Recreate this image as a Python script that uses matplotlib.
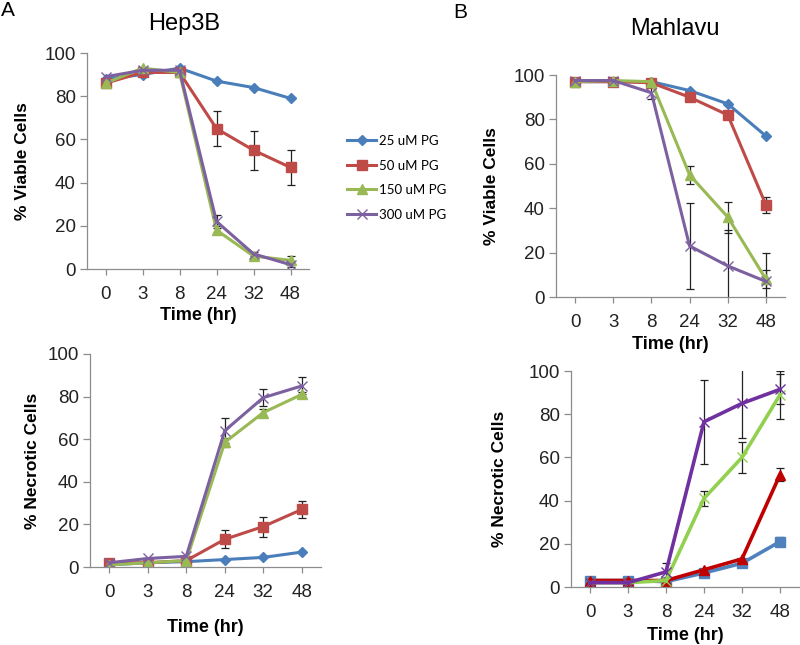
import numpy as np
import matplotlib
matplotlib.use('Agg')
import matplotlib.pyplot as plt

plt.rcParams['font.family'] = ['Liberation Sans', 'DejaVu Sans']

W, H = 800, 645

time_labels = ['0', '3', '8', '24', '32', '48']
doses = ['25 uM PG', '50 uM PG', '150 uM PG', '300 uM PG']

# Hep3B, viable
hep_via_25 = [88, 90, 93, 87, 84, 79]
hep_via_50 = [86, 91, 91, 65, 55, 47]
hep_via_150 = [86, 93, 91, 18, 6, 4]
hep_via_300 = [89, 92, 92, 22, 7, 2]
hep_via_err_25 = [0, 0, 0, 0, 0, 0]
hep_via_err_50 = [0, 0, 0, 8, 9, 8]
hep_via_err_150 = [0, 0, 0, 2, 1, 2]
hep_via_err_300 = [0, 0, 0, 3, 1, 1]

# Mahlavu, viable
mah_via_25 = [97, 97, 97, 93, 87, 72.5]
mah_via_50 = [97, 97, 96.5, 90, 82, 41.5]
mah_via_150 = [97, 97.5, 97, 55, 36, 8]
mah_via_300 = [97.5, 97.5, 92, 23, 14, 7]
mah_via_err_25 = [0, 0, 0, 0, 0, 0]
mah_via_err_50 = [0, 0, 0, 1, 2, 3.5]
mah_via_err_150 = [0, 0, 0, 4, 7, 4]
mah_via_err_300 = [0, 0, 3, 19.5, 16, 13]

# Hep3B, necrotic
hep_nec_25 = [1, 2, 2.5, 3.5, 4.5, 7]
hep_nec_50 = [2, 2, 3, 13, 19, 27]
hep_nec_150 = [1, 2, 3, 58.5, 72.5, 81]
hep_nec_300 = [2, 4, 5, 64, 79.5, 85]
hep_nec_err_25 = [0, 0, 0, 0, 0, 0]
hep_nec_err_50 = [0, 0, 0, 4.3, 4.7, 3.8]
hep_nec_err_150 = [0, 0, 0, 2, 1.5, 1]
hep_nec_err_300 = [0, 0, 0, 6, 4, 4]

# Mahlavu, necrotic
mah_nec_25 = [3, 3, 2.5, 6.5, 11, 21]
mah_nec_50 = [3, 3, 3, 8, 13, 52]
mah_nec_150 = [2, 2, 3, 41, 60, 89]
mah_nec_300 = [2, 2, 7, 76.5, 85, 91.5]
mah_nec_err_25 = [0, 0, 0, 0.5, 1, 2]
mah_nec_err_50 = [0, 0, 0, 0, 0, 3]
mah_nec_err_150 = [0, 0, 0, 3.5, 7, 11]
mah_nec_err_300 = [0, 0, 4, 19.5, 16, 7]

excel_style = [('#4A7EBB', 'D', 5.5, 1), ('#BE4B48', 's', 7, 1),
               ('#98B954', '^', 7.5, 1), ('#7D60A0', 'x', 7, 1)]
dark_style = [('#4F81BD', 's', 6.5, 1), ('#C00000', '^', 7.5, 1),
              ('#92D050', 'x', 7, 1), ('#7030A0', 'x', 7, 1)]

fig = plt.figure(figsize=(W / 100, H / 100), dpi=100)


def px_axes(l, t, r, b):
	return fig.add_axes([l / W, 1 - b / H, (r - l) / W, (b - t) / H])


def panel(box, series, errs, styles, ylabel, ylab_x, xlab_y, lw=2.2):
	l, t, r, b = box
	ax = px_axes(l, t, r, b)
	x = np.arange(len(time_labels))
	handles = []
	for vals, err, (col, mk, ms, mew), lab in zip(series, errs, styles, doses):
		err = np.array(err, dtype=float)
		sel = err > 0
		if sel.any():
			ax.errorbar(x[sel], np.array(vals)[sel], yerr=err[sel], fmt='none',
						ecolor='#222222', elinewidth=0.9, capsize=3, capthick=0.9, zorder=1)
		h, = ax.plot(x, vals, color=col, lw=lw, marker=mk, markersize=ms,
					 markeredgewidth=mew, markeredgecolor=col, label=lab, zorder=2)
		handles.append(h)
	ax.set_xlim(-0.5, len(time_labels) - 0.5)
	ax.set_ylim(0, 100)
	ax.set_xticks(x)
	ax.set_xticklabels(time_labels)
	ax.set_yticks([0, 20, 40, 60, 80, 100])
	for s in ['top', 'right']:
		ax.spines[s].set_visible(False)
	for s in ['left', 'bottom']:
		ax.spines[s].set_color('#8c8c8c')
		ax.spines[s].set_linewidth(0.9)
	ax.tick_params(axis='y', direction='out', length=5, width=0.9, color='#8c8c8c',
				   labelsize=13.5, labelcolor='#222222', pad=3)
	ax.tick_params(axis='x', direction='out', length=4, width=0.9, color='#8c8c8c',
				   labelsize=13.5, labelcolor='#222222', pad=8)
	ax.set_ylabel(ylabel, fontsize=12.5, fontweight='bold')
	ax.yaxis.label.set_va('center')
	ax.yaxis.set_label_coords((ylab_x - l) / (r - l), 0.5)
	ax.set_xlabel('Time (hr)', fontsize=13, fontweight='bold')
	ax.xaxis.label.set_va('center')
	ax.xaxis.set_label_coords(0.5, -(xlab_y - b) / (b - t))
	return ax, handles


ax1, leg_handles = panel((87, 53, 309, 269),
						 [hep_via_25, hep_via_50, hep_via_150, hep_via_300],
						 [hep_via_err_25, hep_via_err_50, hep_via_err_150, hep_via_err_300],
						 excel_style, '% Viable Cells', 23, 316)
ax2, _ = panel((556, 75, 785, 297),
			   [mah_via_25, mah_via_50, mah_via_150, mah_via_300],
			   [mah_via_err_25, mah_via_err_50, mah_via_err_150, mah_via_err_300],
			   excel_style, '% Viable Cells', 492, 344)
ax3, _ = panel((90, 354, 321, 567),
			   [hep_nec_25, hep_nec_50, hep_nec_150, hep_nec_300],
			   [hep_nec_err_25, hep_nec_err_50, hep_nec_err_150, hep_nec_err_300],
			   excel_style, '% Necrotic Cells', 33, 627)
ax4, _ = panel((571, 371, 799, 587),
			   [mah_nec_25, mah_nec_50, mah_nec_150, mah_nec_300],
			   [mah_nec_err_25, mah_nec_err_50, mah_nec_err_150, mah_nec_err_300],
			   dark_style, '% Necrotic Cells', 500, 635, lw=2.6)

fig.text(184 / W, 1 - 24 / H, 'Hep3B', fontsize=17, ha='center', va='center')
fig.text(675 / W, 1 - 29 / H, 'Mahlavu', fontsize=17, ha='center', va='center')
fig.text(8 / W, 1 - 11 / H, 'A', fontsize=15, ha='center', va='center')
fig.text(460 / W, 1 - 12 / H, 'B', fontsize=15, ha='center', va='center')

fig.legend(handles=leg_handles, labels=doses, loc='upper left',
		   bbox_to_anchor=(347 / W, 1 - 135 / H), frameon=False,
		   prop={'family': 'Lato', 'size': 9.5}, handlelength=2.2,
		   handletextpad=0.2, labelspacing=0.95, borderpad=0, borderaxespad=0)

fig.savefig('out.png', dpi=100)
